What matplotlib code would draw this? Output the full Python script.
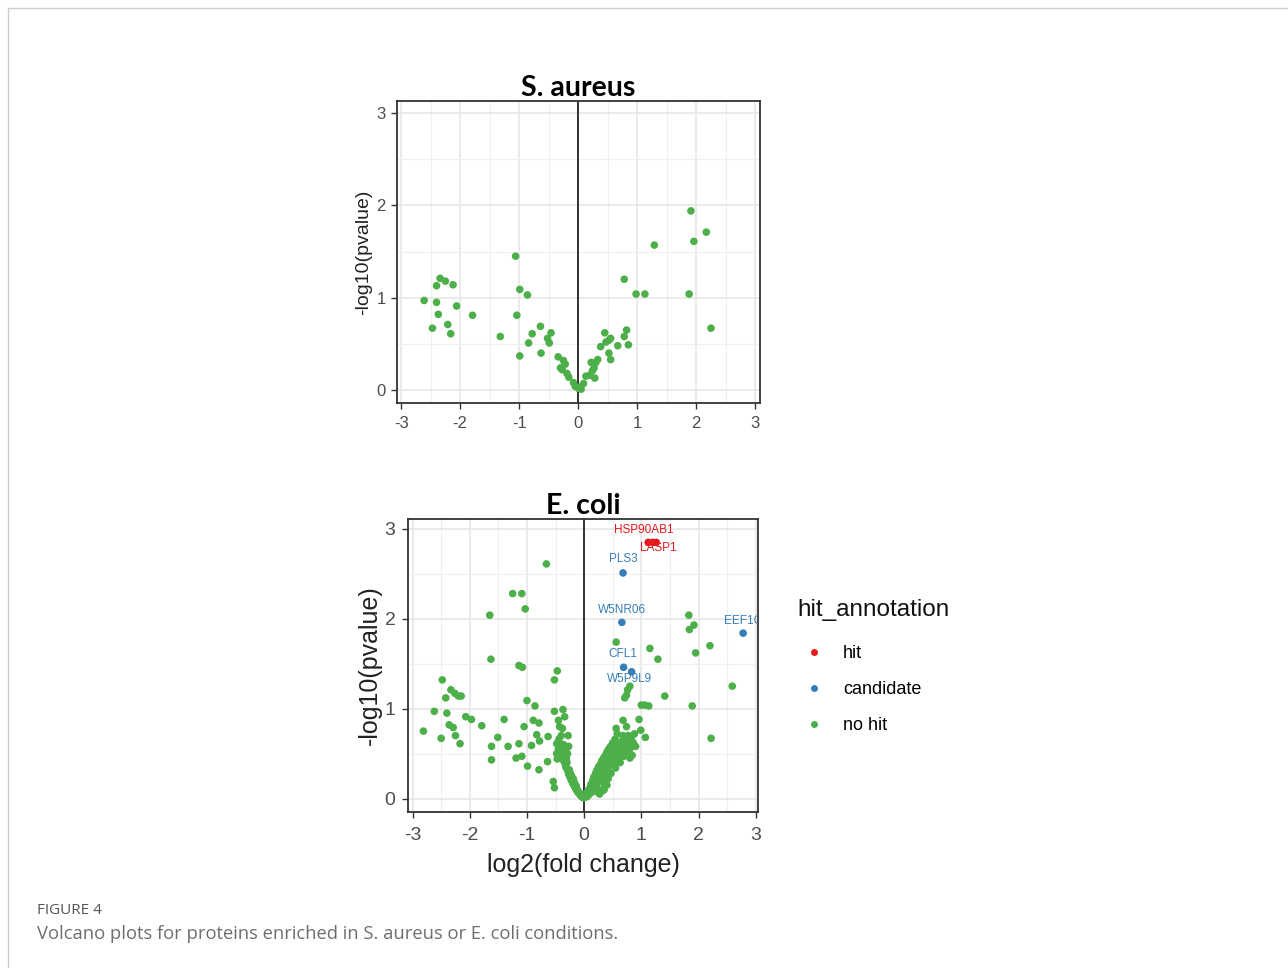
import matplotlib.pyplot as plt
from matplotlib.lines import Line2D
from matplotlib.ticker import MultipleLocator

# colours (ColorBrewer Set1, as in the ggplot original)
HIT = '#E41A1C'
CAND = '#377EB8'
NOHIT = '#4DAF4A'

# ---- S. aureus: all points are "no hit"
sa_x = [-2.61, -2.40, -2.34, -2.25, -2.12, -2.40, -2.37, -2.47, -2.21, -2.16,
        -2.06, -1.79, -1.32, -1.06, -0.99, -0.86, -1.04, -0.99, -0.84, -0.78,
        -0.64, -0.63, -0.52, -0.46, -0.49, -0.34, -0.25, -0.30, -0.22, -0.19,
        -0.16, -0.08, -0.05, 0.00, 0.05, 0.09, 0.13, 0.19, 0.24, 0.22,
        0.27, 0.30, 0.33, 0.28, 0.38, 0.45, 0.47, 0.52, 0.55, 0.52,
        0.55, 0.67, 0.78, 0.82, 0.85, 0.78, 0.98, 1.13, 1.29, 1.91,
        1.96, 2.17, 1.88, 2.25, -0.27, 0.03]
sa_y = [0.97, 1.13, 1.21, 1.18, 1.14, 0.95, 0.82, 0.67, 0.71, 0.61,
        0.91, 0.81, 0.58, 1.45, 1.09, 1.03, 0.81, 0.37, 0.51, 0.61,
        0.69, 0.40, 0.56, 0.62, 0.51, 0.36, 0.32, 0.24, 0.28, 0.18,
        0.14, 0.08, 0.04, 0.02, 0.01, 0.07, 0.15, 0.16, 0.21, 0.30,
        0.24, 0.30, 0.33, 0.13, 0.47, 0.62, 0.52, 0.54, 0.56, 0.40,
        0.33, 0.48, 0.58, 0.65, 0.49, 1.20, 1.04, 1.04, 1.57, 1.94,
        1.61, 1.71, 1.04, 0.67, 0.22, 0.03]

# ---- E. coli
ec_hit_x = [1.12, 1.20, 1.26]
ec_hit_y = [2.85, 2.85, 2.85]
ec_hit_lab = ['HSP90AB1', '', 'LASP1']

ec_cand_x = [0.68, 0.66, 2.78, 0.69, 0.83]
ec_cand_y = [2.51, 1.96, 1.84, 1.46, 1.41]
ec_cand_lab = ['PLS3', 'W5NR06', 'EEF1G', 'CFL1', 'W5P9L9']

ec_x = [-2.81, -2.62, -2.50, -2.48, -2.42, -2.40, -2.36, -2.33, -2.29, -2.25,
        -2.26, -2.20, -2.17, -2.15, -2.07, -1.97, -1.79, -1.65, -1.63, -1.62,
        -1.62, -1.51, -1.40, -1.33, -1.25, -1.09, -1.03, -1.14, -1.08, -1.05,
        -1.19, -1.14, -1.09, -1.00, -0.99, -0.92, -0.86, -0.89, -0.83, -0.79,
        -0.79, -0.78, -0.66, -0.64, -0.63, -0.52, -0.52, -0.47, -0.54, -0.52,
        -0.45, -0.43, -0.37, -0.34, -0.38, -0.28, -0.48, -0.27,
        # left arm of the V
        -0.45, -0.42, -0.40, -0.38, -0.36, -0.35, -0.33, -0.32, -0.30, -0.30,
        -0.28, -0.27, -0.26, -0.25, -0.24, -0.23, -0.22, -0.21, -0.20, -0.19,
        -0.18, -0.17, -0.16, -0.15, -0.14, -0.13, -0.12, -0.11, -0.10, -0.09,
        -0.08, -0.07, -0.06, -0.05, -0.04, -0.03, -0.02, -0.01,
        -0.46, -0.43, -0.41, -0.39, -0.37, -0.34, -0.31, -0.29, -0.44, -0.40,
        -0.48, -0.47, -0.36,
        # right arm of the V
        0.00, 0.02, 0.04, 0.05, 0.07, 0.08, 0.10, 0.11, 0.12, 0.13,
        0.15, 0.16, 0.17, 0.18, 0.19, 0.20, 0.21, 0.22, 0.23, 0.24,
        0.25, 0.26, 0.27, 0.28, 0.29, 0.30, 0.31, 0.32, 0.33, 0.34,
        0.35, 0.36, 0.37, 0.38, 0.39, 0.40, 0.41, 0.42, 0.43, 0.44,
        0.45, 0.46, 0.47, 0.48, 0.50, 0.51, 0.52, 0.54, 0.55, 0.56,
        0.58, 0.59, 0.60, 0.62, 0.63, 0.64, 0.66, 0.68, 0.69, 0.70,
        0.72, 0.73, 0.75, 0.77, 0.78, 0.80, 0.82, 0.84, 0.86, 0.88,
        0.90, 0.80, 0.30, 0.35, 0.40, 0.33, 0.56, 0.68, 0.74, 0.83,
        # upper right
        0.56, 1.15, 1.29, 1.41, 0.80, 0.76, 0.74, 0.71, 1.00, 1.06,
        1.13, 0.96, 0.99, 1.07, 1.83, 1.92, 1.84, 1.95, 2.20, 2.59,
        1.89, 2.22]
ec_y = [0.75, 0.97, 0.67, 1.32, 1.12, 0.95, 0.82, 1.21, 0.79, 0.70,
        1.17, 1.14, 0.61, 1.14, 0.91, 0.88, 0.81, 2.04, 1.55, 0.58,
        0.43, 0.68, 0.88, 0.58, 2.28, 2.28, 2.11, 1.48, 1.46, 0.80,
        0.45, 0.61, 0.47, 1.09, 0.36, 0.59, 1.03, 0.87, 0.71, 0.84,
        0.32, 0.64, 2.61, 0.41, 0.69, 0.97, 1.32, 1.42, 0.19, 0.12,
        0.87, 0.80, 0.99, 0.91, 0.78, 0.70, 0.61, 0.58,
        0.55, 0.52, 0.48, 0.45, 0.42, 0.47, 0.38, 0.35, 0.33, 0.40,
        0.30, 0.27, 0.32, 0.24, 0.28, 0.21, 0.25, 0.19, 0.17, 0.22,
        0.15, 0.18, 0.13, 0.11, 0.14, 0.09, 0.10, 0.07, 0.08, 0.06,
        0.05, 0.04, 0.05, 0.03, 0.02, 0.03, 0.01, 0.02,
        0.62, 0.58, 0.60, 0.55, 0.50, 0.56, 0.45, 0.50, 0.66, 0.70,
        0.50, 0.44, 0.60,
        0.01, 0.03, 0.06, 0.02, 0.09, 0.04, 0.12, 0.06, 0.16, 0.09,
        0.20, 0.11, 0.24, 0.14, 0.08, 0.28, 0.18, 0.31, 0.12, 0.22,
        0.35, 0.26, 0.05, 0.38, 0.30, 0.19, 0.42, 0.33, 0.25, 0.45,
        0.36, 0.15, 0.48, 0.29, 0.40, 0.52, 0.33, 0.22, 0.55, 0.44,
        0.37, 0.58, 0.28, 0.47, 0.62, 0.40, 0.52, 0.66, 0.34, 0.56,
        0.72, 0.45, 0.60, 0.50, 0.40, 0.63, 0.55, 0.70, 0.47, 0.60,
        0.66, 0.52, 0.58, 0.70, 0.62, 0.55, 0.68, 0.48, 0.62, 0.72,
        0.58, 0.45, 0.08, 0.10, 0.15, 0.09, 0.78, 0.87, 0.80, 0.69,
        1.74, 1.67, 1.55, 1.14, 1.25, 1.21, 1.15, 1.12, 1.04, 1.04,
        1.03, 0.88, 0.76, 0.68, 2.04, 1.93, 1.88, 1.62, 1.70, 1.25,
        1.03, 0.67]

legend_title = 'hit_annotation'
legend_labels = ['hit', 'candidate', 'no hit']

plt.rcParams['font.family'] = ['Liberation Sans', 'DejaVu Sans']
plt.rcParams['axes.unicode_minus'] = False

W, H = 1288, 968
fig = plt.figure(figsize=(W / 100, H / 100), dpi=100)


def style_axes(ax, xlim, ylim, tick_size, pad):
    ax.set_xlim(*xlim)
    ax.set_ylim(*ylim)
    ax.xaxis.set_major_locator(MultipleLocator(1))
    ax.yaxis.set_major_locator(MultipleLocator(1))
    ax.xaxis.set_minor_locator(MultipleLocator(0.5))
    ax.yaxis.set_minor_locator(MultipleLocator(0.5))
    ax.grid(True, which='major', color='#E6E6E6', linewidth=1.2, zorder=0)
    ax.grid(True, which='minor', color='#F0F0F0', linewidth=0.8, zorder=0)
    ax.set_axisbelow(True)
    ax.tick_params(which='major', length=4, width=1, color='#333333',
                   labelcolor='#4D4D4D', labelsize=tick_size)
    ax.tick_params(axis='x', which='major', pad=pad[0])
    ax.tick_params(axis='y', which='major', pad=pad[1])
    ax.tick_params(which='minor', length=0)
    for s in ax.spines.values():
        s.set_color('#333333')
        s.set_linewidth(1.3)
    ax.axvline(0, color='black', linewidth=1.1, zorder=1)


# top panel
ax1 = fig.add_axes([397 / W, 1 - 403 / H, 363 / W, 302 / H])
style_axes(ax1, (-3.07, 3.08), (-0.14, 3.13), 12, (5, 4))
ax1.scatter(sa_x, sa_y, s=30, color=NOHIT, edgecolors='none', zorder=3)
ax1.set_title('S. aureus', fontsize=20.5, fontweight='bold', family='Lato', pad=0)
ax1.set_ylabel('-log10(pvalue)', fontsize=14, color='#222222', labelpad=3)

# bottom panel
ax2 = fig.add_axes([408 / W, 1 - 812 / H, 350 / W, 293 / H])
style_axes(ax2, (-3.08, 3.04), (-0.15, 3.11), 14, (7, 5))
ax2.scatter(ec_x, ec_y, s=30, color=NOHIT, edgecolors='none', zorder=3)
ax2.scatter(ec_cand_x, ec_cand_y, s=30, color=CAND, edgecolors='none', zorder=4)
ax2.scatter(ec_hit_x, ec_hit_y, s=30, color=HIT, edgecolors='none', zorder=4)
ax2.set_title('E. coli', fontsize=20.5, fontweight='bold', family='Lato', pad=2)
ax2.set_ylabel('-log10(pvalue)', fontsize=18, color='#222222', labelpad=2)
ax2.set_xlabel('log2(fold change)', fontsize=18, color='#222222', labelpad=6)

# ggrepel-style labels
hit_off = [(-0.08, 0.14), None, (0.03, -0.06)]
for x, y, lab, off in zip(ec_hit_x, ec_hit_y, ec_hit_lab, hit_off):
    if lab:
        ax2.text(x + off[0], y + off[1], lab, color=HIT, fontsize=8.5,
                 ha='center', va='center', zorder=5)
cand_off = [(0.0, 0.15), (0.0, 0.14), (0.0, 0.13), (-0.02, 0.15), (-0.03, -0.08)]
for x, y, lab, off in zip(ec_cand_x, ec_cand_y, ec_cand_lab, cand_off):
    ax2.text(x + off[0], y + off[1], lab, color=CAND, fontsize=8.5,
             ha='center', va='center', zorder=5, clip_on=True)

# legend
fig.text(797 / W, 1 - 610 / H, legend_title, fontsize=17.5, color='#111111',
         va='center', ha='left')
handles = [Line2D([], [], marker='o', linestyle='none', markersize=5,
                  markerfacecolor=c, markeredgecolor='none')
           for c in (HIT, CAND, NOHIT)]
fig.legend(handles, legend_labels, loc='upper left',
           bbox_to_anchor=(780 / W, 1 - 629 / H), frameon=False,
           fontsize=13, labelspacing=1.05, handletextpad=0.6, handlelength=2.0)

# caption
fig.text(37 / W, 1 - 911 / H, 'FIGURE 4', family='Open Sans', fontsize=11,
         color='#555555', va='center')
fig.text(37 / W, 1 - 934 / H,
         'Volcano plots for proteins enriched in S. aureus or E. coli conditions.',
         family='Open Sans', fontsize=13.2, color='#6E6E6E', va='center')

# page frame (top and left rules)
fig.add_artist(Line2D([8 / W, 1], [1 - 8 / H, 1 - 8 / H], color='#CCCCCC', linewidth=1))
fig.add_artist(Line2D([8 / W, 8 / W], [0, 1 - 8 / H], color='#CCCCCC', linewidth=1))

fig.savefig('out.png', dpi=100)
